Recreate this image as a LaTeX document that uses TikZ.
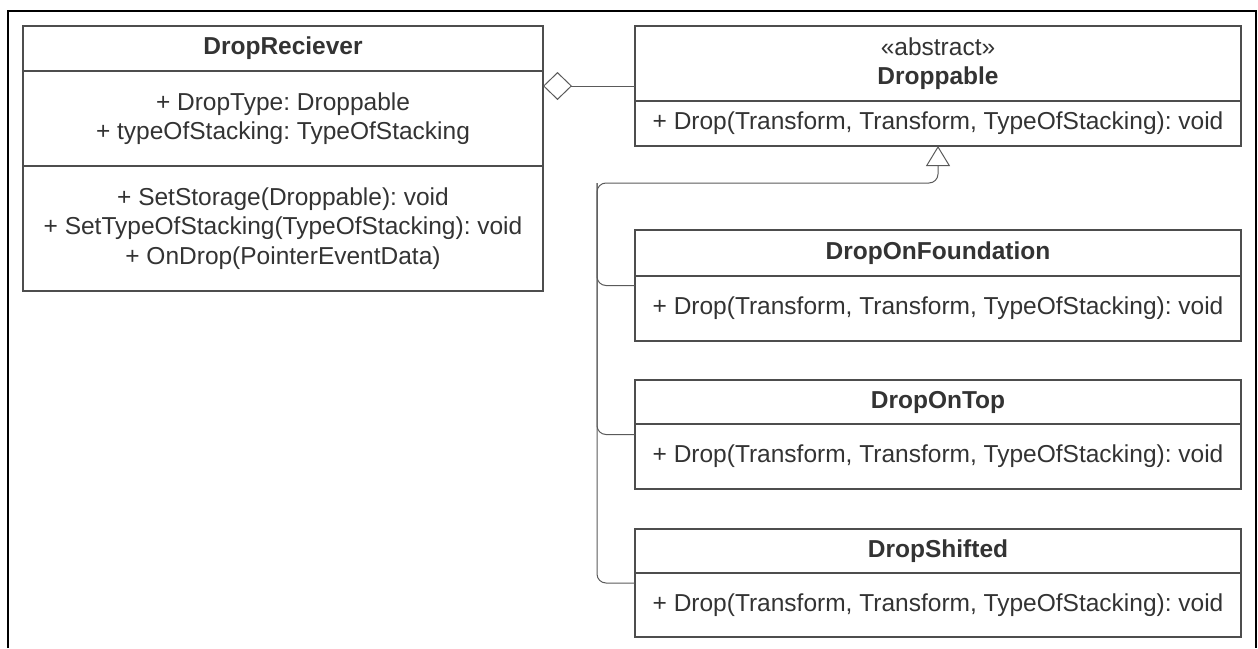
\documentclass[tikz,border=0pt]{standalone}
\usepackage{fontspec}
\setmainfont{Liberation Sans}
\usetikzlibrary{arrows.meta,fit}
\definecolor{boxline}{HTML}{4D4D4D}
\definecolor{txt}{HTML}{333333}
\definecolor{conn}{HTML}{5A5A5A}
\frenchspacing
\begin{document}
\begin{tikzpicture}[x=1pt,y=-1pt,
  compart/.style={draw=boxline, line width=1.3pt, inner sep=0pt, outer sep=0pt,
    anchor=north west, text=txt, align=center,
    font=\fontsize{24.5}{29.5}\selectfont\frenchspacing},
  wideL/.style={compart, minimum width=520pt},
  wideR/.style={compart, minimum width=606pt},
  whole/.style={inner sep=0pt, outer sep=0pt},
  conn/.style={draw=conn, line width=1pt},
  inherit/.style={conn, rounded corners=9pt},
  frame/.style={line width=1.5pt, draw=black}]
\useasboundingbox (0,0) rectangle (1258,648);
\draw[frame] (8,648) -- (8,11) -- (1256,11) -- (1256,648);

% DropReciever
\node[wideL, minimum height=45pt] (drN) at (23,26) {\textbf{DropReciever}};
\node[wideL, minimum height=95pt] (drA) at (drN.south west) {+ DropType: Droppable\\+ typeOfStacking: TypeOfStacking};
\node[wideL, minimum height=125pt] (drO) at (drA.south west) {+ SetStorage(Droppable): void\\+ SetTypeOfStacking(TypeOfStacking): void\\+ OnDrop(PointerEventData)};
\node[whole, fit=(drN)(drO)] (dr) {};

% Droppable
\node[wideR, minimum height=75pt] (dpN) at (635,26) {«abstract»\\\textbf{Droppable}};
\node[wideR, minimum height=45pt] (dpO) at (dpN.south west) {+ Drop(Transform, Transform, TypeOfStacking): void};
\node[whole, fit=(dpN)(dpO)] (dp) {};

% DropOnFoundation
\node[wideR, minimum height=46pt] (dofN) at (635,230) {\textbf{DropOnFoundation}};
\node[wideR, minimum height=65pt] (dofO) at (dofN.south west) {+ Drop(Transform, Transform, TypeOfStacking): void};
\node[whole, fit=(dofN)(dofO)] (dof) {};

% DropOnTop
\node[wideR, minimum height=44pt] (dotN) at (635,380) {\textbf{DropOnTop}};
\node[wideR, minimum height=65pt] (dotO) at (dotN.south west) {+ Drop(Transform, Transform, TypeOfStacking): void};
\node[whole, fit=(dotN)(dotO)] (dot) {};

% DropShifted
\node[wideR, minimum height=44pt] (dsN) at (635,529) {\textbf{DropShifted}};
\node[wideR, minimum height=64pt] (dsO) at (dsN.south west) {+ Drop(Transform, Transform, TypeOfStacking): void};
\node[whole, fit=(dsN)(dsO)] (ds) {};

% aggregation
\draw[conn, {Diamond[open,length=29pt,width=28pt]}-] (dp.west -| dr.east) -- (dp.west);

% generalization
\coordinate (tr) at (597,183);
\draw[inherit, -{Triangle[open,length=20pt,width=24pt]}] (dof.west) -| (tr) -| (dp.south);
\draw[inherit] (dot.west) -| (tr);
\draw[inherit] (ds.west) -| (tr);
\end{tikzpicture}
\end{document}
